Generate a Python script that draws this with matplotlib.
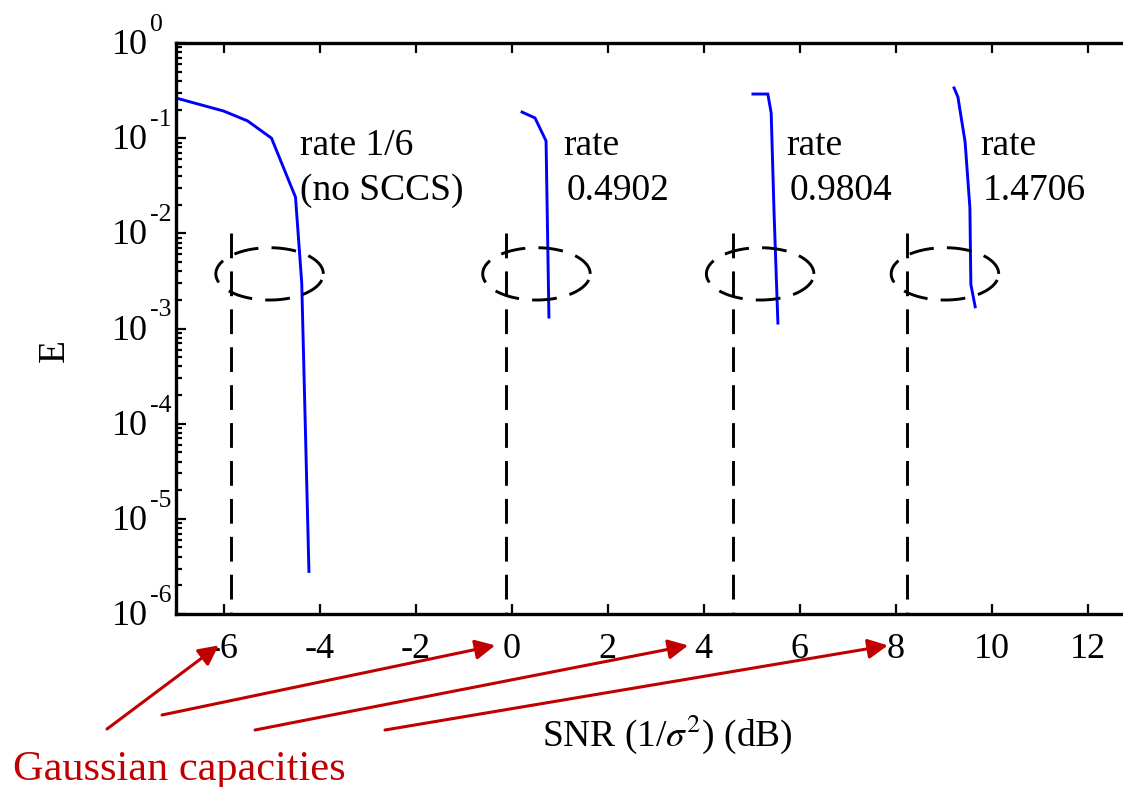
import numpy as np
import matplotlib
matplotlib.use("Agg")
import matplotlib.pyplot as plt
import matplotlib.transforms as mtransforms
from matplotlib.ticker import LogLocator, FixedLocator, NullFormatter

plt.rcParams['font.family'] = ['Liberation Serif', 'DejaVu Serif']
plt.rcParams['mathtext.fontset'] = 'stix'

# ---- data ----
snr_r16 = [-7.0, -6.0, -5.5, -5.0, -4.5, -4.37, -4.22]
ber_r16 = [0.265, 0.193, 0.152, 0.100, 0.0240, 3.0e-3, 2.8e-6]

snr_r049 = [0.22, 0.49, 0.72, 0.78]
ber_r049 = [0.188, 0.163, 0.0935, 1.32e-3]

snr_r098 = [5.03, 5.34, 5.41, 5.47, 5.55]
ber_r098 = [0.291, 0.291, 0.184, 0.0164, 1.14e-3]

snr_r147 = [9.22, 9.30, 9.45, 9.55, 9.57, 9.66]
ber_r147 = [0.337, 0.271, 0.0912, 0.0185, 2.9e-3, 1.69e-3]

gaussian_capacity_db = [-5.85, -0.12, 4.61, 8.24]
capacity_line_top = 1e-2
ellipse_centers_x = [-5.04, 0.52, 5.18, 9.03]
ellipse_center_y = 3.75e-3

rate_line1 = ["rate 1/6", "rate", "rate", "rate"]
rate_line2 = ["(no SCCS)", "0.4902", "0.9804", "1.4706"]
rate_text_x = [-4.41, 1.07, 5.72, 9.76]
rate_line2_shift = [0.0, 0.07, 0.08, 0.06]

x_ticks = [-6, -4, -2, 0, 2, 4, 6, 8, 10, 12]
y_decades = [0, -1, -2, -3, -4, -5, -6]

# ---- figure ----
W, H = 1123, 787
fig = plt.figure(figsize=(W / 100, H / 100), dpi=100)
ax = fig.add_axes([175.5 / W, 1 - 614 / H, 960 / W, 571 / H])
ax.set_yscale('log')
ax.set_xlim(-7, 13)
ax.set_ylim(1e-6, 1)

blue = '#0000ff'
for xs, ys in [(snr_r16, ber_r16), (snr_r049, ber_r049),
               (snr_r098, ber_r098), (snr_r147, ber_r147)]:
    ax.plot(xs, ys, color=blue, lw=2.1, solid_joinstyle='miter')

lw_d = 2.1
dash = (8.5, 4.5)
for c in gaussian_capacity_db:
    ax.plot([c, c], [capacity_line_top, 1e-6], color='black', lw=lw_d,
            linestyle=(0, dash), clip_on=False)

t = np.linspace(0, 2 * np.pi, 400)
for cx in ellipse_centers_x:
    ex = cx + 1.12 * np.cos(t)
    ey = 10 ** (np.log10(ellipse_center_y) + 0.275 * np.sin(t))
    ax.plot(ex, ey, color='black', lw=lw_d, linestyle=(0, dash))

fs = 27
for x, l1, l2, dx in zip(rate_text_x, rate_line1, rate_line2, rate_line2_shift):
    ax.text(x, 0.0667, l1, fontsize=fs, va='baseline', ha='left')
    ax.text(x + dx, 0.0224, l2, fontsize=fs, va='baseline', ha='left')

# ticks
ax.xaxis.set_major_locator(FixedLocator(x_ticks))
ax.set_xticklabels([str(v) for v in x_ticks])
ax.yaxis.set_major_locator(FixedLocator([10.0 ** d for d in y_decades]))
ax.yaxis.set_major_formatter(NullFormatter())
ax.yaxis.set_minor_locator(LogLocator(base=10, subs=np.arange(2, 10), numticks=20))
ax.yaxis.set_minor_formatter(NullFormatter())
ax.tick_params(which='both', direction='in', top=True, right=True,
               width=1.6, labelsize=26, colors='black')
ax.tick_params(which='major', length=7)
ax.tick_params(which='minor', length=4)
ax.tick_params(axis='x', pad=14)
for s in ax.spines.values():
    s.set_linewidth(2.4)

# MATLAB-style y tick labels: "10" with a raised exponent
ytrans = ax.get_yaxis_transform()
base_tr = mtransforms.offset_copy(ytrans, fig=fig, x=0, y=-11, units='dots')
sup_tr = mtransforms.offset_copy(ytrans, fig=fig, x=0, y=12, units='dots')
for d in y_decades:
    ax.text(-0.0665, 10.0 ** d, '10', fontsize=26, ha='left', va='baseline',
            transform=base_tr, clip_on=False)
    ax.text(-0.0270, 10.0 ** d, str(d), fontsize=18.5, ha='left', va='baseline',
            transform=sup_tr, clip_on=False)

ax.set_ylabel('E', fontsize=27)
ax.yaxis.set_label_coords(-0.108, 0.462)
ax.set_xlabel(r'SNR (1/$\sigma^{2}$) (dB)', fontsize=27)
ax.xaxis.set_label_coords(0.512, -0.172)

# red annotation
red = '#c00000'
fig.text(13 / W, (H - 780) / H, 'Gaussian capacities', fontsize=30.5,
         color=red, va='baseline', ha='left')
arrow_tips_x = [-6.1, -0.34, 3.68, 7.84]
arrow_starts_px = [(107, 729), (162, 715), (255, 730), (385, 730)]
for tx, (sx, sy) in zip(arrow_tips_x, arrow_starts_px):
    ax.annotate('', xy=(tx, -0.055), xycoords=ax.get_xaxis_transform(),
                xytext=(sx, H - sy), textcoords='figure pixels',
                arrowprops=dict(arrowstyle='-|>', color=red, lw=2.2,
                                mutation_scale=30, shrinkA=0, shrinkB=0),
                annotation_clip=False)

fig.savefig('out.png', dpi=100)
